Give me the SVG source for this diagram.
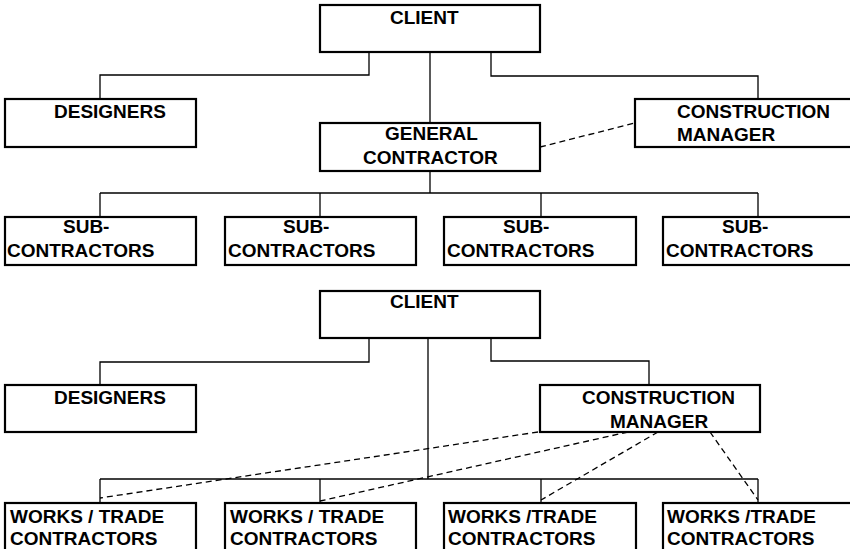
<svg xmlns="http://www.w3.org/2000/svg" width="850" height="549" viewBox="0 0 850 549">
  <style>
    .box { fill: #fff; stroke: #000; stroke-width: 2.2; }
    .ln { fill: none; stroke: #000; stroke-width: 1.3; }
    .dash { fill: none; stroke: #000; stroke-width: 1.3; stroke-dasharray: 6 4; }
    text { font-family: "Liberation Sans", Arial, sans-serif; font-weight: bold; font-size: 19px; fill: #000; }
  </style>
  <rect width="850" height="549" fill="#fff"/>

  <!-- Connectors -->
  <g id="connectors">
    <!-- upper chart: traditional contracting -->
    <polyline class="ln" points="369,52 369,75 100,75 100,99"/>
    <line class="ln" x1="430" y1="52" x2="430" y2="123"/>
    <polyline class="ln" points="491,52 491,76 758,76 758,99"/>
    <line class="dash" x1="540" y1="147" x2="635" y2="123"/>
    <line class="ln" x1="430" y1="171" x2="430" y2="193"/>
    <line class="ln" x1="100" y1="193" x2="758" y2="193"/>
    <line class="ln" x1="100" y1="193" x2="100" y2="217"/>
    <line class="ln" x1="320" y1="193" x2="320" y2="217"/>
    <line class="ln" x1="541" y1="193" x2="541" y2="217"/>
    <line class="ln" x1="758" y1="193" x2="758" y2="217"/>

    <!-- lower chart: construction management -->
    <polyline class="ln" points="369,338 369,362 100,362 100,385"/>
    <line class="ln" x1="428" y1="338" x2="428" y2="479"/>
    <polyline class="ln" points="491,338 491,361 649,361 649,385"/>
    <line class="ln" x1="100" y1="479" x2="758" y2="479"/>
    <line class="ln" x1="100" y1="479" x2="100" y2="503"/>
    <line class="ln" x1="320" y1="479" x2="320" y2="503"/>
    <line class="ln" x1="541" y1="479" x2="541" y2="503"/>
    <line class="ln" x1="758" y1="479" x2="758" y2="503"/>
    <line class="dash" x1="538" y1="432" x2="100" y2="498"/>
    <line class="dash" x1="628" y1="432" x2="320" y2="501"/>
    <line class="dash" x1="658" y1="432" x2="541" y2="500"/>
    <line class="dash" x1="710" y1="432" x2="758" y2="500"/>
  </g>

  <!-- Upper chart nodes -->
  <g id="client-1">
    <rect class="box" x="320" y="5" width="220" height="47"/>
    <text x="390" y="24">CLIENT</text>
  </g>
  <g id="designers-1">
    <rect class="box" x="5" y="99" width="191" height="48"/>
    <text x="54" y="118">DESIGNERS</text>
  </g>
  <g id="general-contractor">
    <rect class="box" x="320" y="123" width="220" height="48"/>
    <text x="385" y="140">GENERAL</text>
    <text x="363" y="164">CONTRACTOR</text>
  </g>
  <g id="construction-manager-1">
    <rect class="box" x="635" y="99" width="220" height="48"/>
    <text x="677" y="118">CONSTRUCTION</text>
    <text x="677" y="141">MANAGER</text>
  </g>
  <g id="sub-1">
    <rect class="box" x="5" y="217" width="191" height="48"/>
    <text x="63" y="233">SUB-</text>
    <text x="7" y="257">CONTRACTORS</text>
  </g>
  <g id="sub-2">
    <rect class="box" x="225" y="217" width="191" height="48"/>
    <text x="283" y="233">SUB-</text>
    <text x="228" y="257">CONTRACTORS</text>
  </g>
  <g id="sub-3">
    <rect class="box" x="444" y="217" width="192" height="48"/>
    <text x="503" y="233">SUB-</text>
    <text x="447" y="257">CONTRACTORS</text>
  </g>
  <g id="sub-4">
    <rect class="box" x="663" y="217" width="192" height="48"/>
    <text x="722" y="233">SUB-</text>
    <text x="666" y="257">CONTRACTORS</text>
  </g>

  <!-- Lower chart nodes -->
  <g id="client-2">
    <rect class="box" x="320" y="291" width="220" height="47"/>
    <text x="390" y="308">CLIENT</text>
  </g>
  <g id="designers-2">
    <rect class="box" x="5" y="385" width="191" height="47"/>
    <text x="54" y="404">DESIGNERS</text>
  </g>
  <g id="construction-manager-2">
    <rect class="box" x="540" y="385" width="220" height="47"/>
    <text x="582" y="404">CONSTRUCTION</text>
    <text x="610" y="428">MANAGER</text>
  </g>
  <g id="trade-1">
    <rect class="box" x="5" y="503" width="191" height="60"/>
    <text x="10" y="523">WORKS / TRADE</text>
    <text x="10" y="545">CONTRACTORS</text>
  </g>
  <g id="trade-2">
    <rect class="box" x="225" y="503" width="191" height="60"/>
    <text x="230" y="523">WORKS / TRADE</text>
    <text x="230" y="545">CONTRACTORS</text>
  </g>
  <g id="trade-3">
    <rect class="box" x="444" y="503" width="192" height="60"/>
    <text x="448" y="523">WORKS /TRADE</text>
    <text x="448" y="545">CONTRACTORS</text>
  </g>
  <g id="trade-4">
    <rect class="box" x="663" y="503" width="192" height="60"/>
    <text x="667" y="523">WORKS /TRADE</text>
    <text x="667" y="545">CONTRACTORS</text>
  </g>
</svg>
